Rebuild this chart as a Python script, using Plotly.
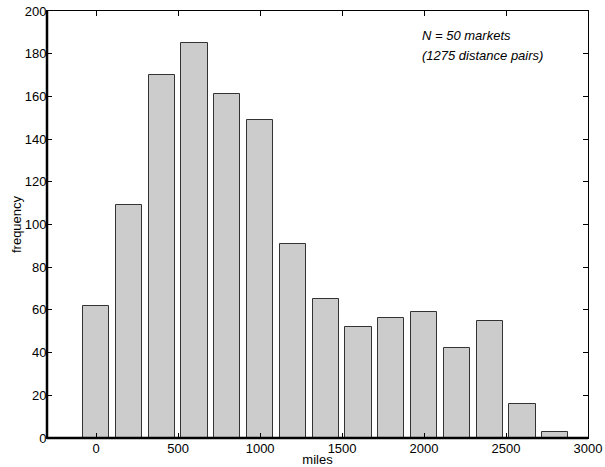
import plotly.graph_objects as go

bin_centers = [0, 200, 400, 600, 800, 1000, 1200, 1400, 1600, 1800, 2000, 2200, 2400, 2600, 2800]
frequency = [62, 109, 170, 185, 161, 149, 91, 65, 52, 56, 59, 42, 55, 16, 3]
x_ticks = [0, 500, 1000, 1500, 2000, 2500, 3000]
y_ticks = [0, 20, 40, 60, 80, 100, 120, 140, 160, 180, 200]
note_lines = ["N = 50 markets", "(1275 distance pairs)"]
note_y = [188.5, 179]

fig = go.Figure()
fig.add_trace(go.Bar(
    x=bin_centers, y=frequency, width=160,
    marker=dict(color="#cccccc", line=dict(color="#333333", width=1)),
    showlegend=False, hoverinfo="skip",
))

font = dict(family="Liberation Sans, Arial, sans-serif", size=13, color="black")

fig.update_layout(
    width=605, height=467,
    margin=dict(l=47, r=17, t=11, b=29),
    paper_bgcolor="white", plot_bgcolor="white",
    font=font,
    bargap=0,
    xaxis=dict(
        range=[-300, 3000], tickvals=x_ticks, ticks="inside", ticklen=5,
        tickcolor="black", showline=True, linecolor="black", linewidth=1,
        mirror="allticks", showgrid=False, zeroline=False, automargin=False,
        ticklabelstandoff=-2,
        title=dict(text="miles", standoff=0, font=font),
    ),
    yaxis=dict(
        range=[0, 200], tickvals=y_ticks, ticks="inside", ticklen=5,
        tickcolor="black", showline=True, linecolor="black", linewidth=1,
        mirror="allticks", showgrid=False, zeroline=False, automargin=False,
        ticklabelstandoff=-3,
        title=dict(text="frequency", standoff=0, font=font),
    ),
)

# thicker left and bottom axis lines
fig.add_shape(type="line", xref="paper", yref="paper", x0=0, x1=1, y0=0, y1=0,
              line=dict(color="black", width=2.5))
fig.add_shape(type="line", xref="paper", yref="paper", x0=0, x1=0, y0=0, y1=1,
              line=dict(color="black", width=2.5))

for txt, yy in zip(note_lines, note_y):
    fig.add_annotation(
        x=1976, y=yy, xref="x", yref="y", xanchor="left", yanchor="middle",
        text="<i>" + txt + "</i>", showarrow=False, align="left",
        font=font,
    )

fig.write_html("out.html", config={"displayModeBar": False},
               post_script="document.body.style.margin='0';")
